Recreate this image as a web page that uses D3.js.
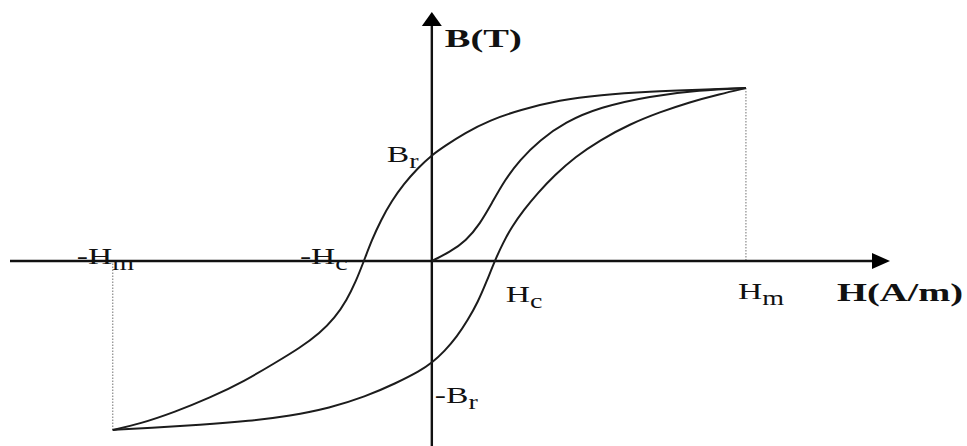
<!DOCTYPE html>
<html>
<head>
<meta charset="utf-8">
<script src="https://cdn.jsdelivr.net/npm/d3@7"></script>
<style>
  html, body { margin: 0; padding: 0; background: #fff; }
  svg { display: block; }
  text { font-family: "Liberation Serif", "Times New Roman", serif; fill: #111; }
</style>
</head>
<body>
<svg id="chart" width="967" height="446"></svg>
<script>
// Axis extents (H in A/m units, B in T units, arbitrary scale)
const hAxisExtent = [-133.5, 145];
const bAxisExtent = [-107, 144];

// Characteristic points of the loop
const hMax = 99.4, bMax = 100;
const hMin = -101, bMin = -97.7;
const hCoercive = 19.9, hCoerciveNeg = -21.5;
const bRemanent = 61.3, bRemanentNeg = -59.0;

// Initial magnetisation curve
const initialH = [0, 5.7, 10.8, 15.2, 19.0, 23.1, 27.8, 34.2, 42.1, 53.2, 69.0, 84.8, 99.4];
const initialB = [0, 5.2, 11.6, 21.4, 33.5, 46.8, 58.4, 69.9, 80.3, 89.0, 95.4, 98.8, 100];

// Descending branch (from +Hm to -Hm)
const descendingH = [99.4, 84.8, 69.0, 53.2, 40.5, 27.8, 18.4, 10.4, 4.1, 0, -4.4, -8.9, -12.7, -16.1, -19.0, -21.5,
  -24.1, -26.9, -30.7, -35.4, -41.8, -49.7, -59.2, -70.3, -81.3, -92.4, -101];
const descendingB = [100, 99.1, 98.0, 96.0, 93.1, 87.3, 81.5, 74.0, 66.5, 61.3, 53.8, 44.5, 34.7, 23.7, 12.1, 0,
  -12.1, -22.5, -32.9, -41.6, -50.3, -59.0, -69.4, -79.2, -87.3, -94.2, -97.7];

// Ascending branch (from -Hm to +Hm)
const ascendingH = [-101, -89.2, -73.4, -57.6, -44.9, -32.3, -21.2, -11.1, -3.8, 0, 4.1, 7.9, 11.4, 14.6, 17.4, 19.9,
  22.5, 25.3, 29.1, 33.5, 38.9, 45.3, 53.2, 62.7, 72.2, 81.6, 91.1, 99.4];
const ascendingB = [-97.7, -96.5, -94.8, -92.5, -89.6, -85.0, -78.6, -70.5, -63.6, -59.0, -52.0, -43.9, -34.1, -23.7, -11.6, 0,
  10.4, 19.7, 29.5, 39.3, 49.7, 60.1, 69.9, 79.2, 86.1, 91.9, 96.5, 100];

const svg = d3.select("#chart");

const x = d3.scaleLinear().domain(hAxisExtent).range([10, 890]);
const y = d3.scaleLinear().domain(bAxisExtent).range([446, 12]);

const zip = (hs, bs) => hs.map((h, i) => [h, bs[i]]);
const line = d3.line().x(d => x(d[0])).y(d => y(d[1])).curve(d3.curveBasis);

// Dotted guides from the tips of the loop to the H axis
svg.append("g")
  .selectAll("line")
  .data([[hMax, bMax], [hMin, bMin]])
  .join("line")
  .attr("x1", d => x(d[0])).attr("x2", d => x(d[0]))
  .attr("y1", d => y(d[1])).attr("y2", y(0))
  .attr("stroke", "#9a9a9a")
  .attr("stroke-width", 1.4)
  .attr("stroke-dasharray", "1.5,1.5");

// Axes
const axes = svg.append("g").attr("stroke", "#111").attr("stroke-width", 2.4);
axes.append("line")
  .attr("x1", x(hAxisExtent[0])).attr("x2", x(hAxisExtent[1]) - 12)
  .attr("y1", y(0)).attr("y2", y(0));
axes.append("line")
  .attr("x1", x(0)).attr("x2", x(0))
  .attr("y1", y(bAxisExtent[0])).attr("y2", y(bAxisExtent[1]) + 10);

// Arrow heads
const hx = x(hAxisExtent[1]), hy = y(0);
svg.append("path")
  .attr("d", `M${hx},${hy} L${hx - 18},${hy - 8} L${hx - 18},${hy + 8} Z`)
  .attr("fill", "#000");
const vx = x(0), vy = y(bAxisExtent[1]);
svg.append("path")
  .attr("d", `M${vx},${vy} L${vx - 10},${vy + 14} L${vx + 10},${vy + 14} Z`)
  .attr("fill", "#000");

// Hysteresis curves
const curves = svg.append("g")
  .attr("fill", "none")
  .attr("stroke", "#1c1c1c")
  .attr("stroke-width", 2)
  .attr("stroke-linejoin", "round");
[zip(initialH, initialB), zip(descendingH, descendingB), zip(ascendingH, ascendingB)].forEach(pts => {
  curves.append("path").attr("d", line(pts));
});

// Labels (wide serif lettering)
function label(px, py, main, sub, opts = {}) {
  const sx = opts.bold ? 1.48 : 1.4;
  const t = svg.append("text")
    .attr("transform", `translate(${px},${py}) scale(${sx},1)`)
    .attr("font-size", opts.bold ? 26 : 24)
    .attr("font-weight", opts.bold ? "bold" : "normal");
  t.append("tspan").text(main);
  if (sub) {
    t.append("tspan").attr("font-size", 20).attr("dy", 6).text(sub);
  }
  return t;
}

label(x(hMin) - 36, y(0) + 3, "-H", "m");
label(x(hCoerciveNeg) - 64, y(0) + 3, "-H", "c");
label(x(hCoercive) + 11, y(0) + 41, "H", "c");
label(x(hMax) - 8, y(0) + 38, "H", "m");
label(x(0) - 45, y(bRemanent) + 7, "B", "r");
label(x(0) + 3, y(bRemanentNeg) + 40, "-B", "r");
label(x(0) + 13, y(bAxisExtent[1]) + 35, "B(T)", null, { bold: true });
label(x(hAxisExtent[1]) - 53, y(0) + 40, "H(A/m)", null, { bold: true });
</script>
</body>
</html>
